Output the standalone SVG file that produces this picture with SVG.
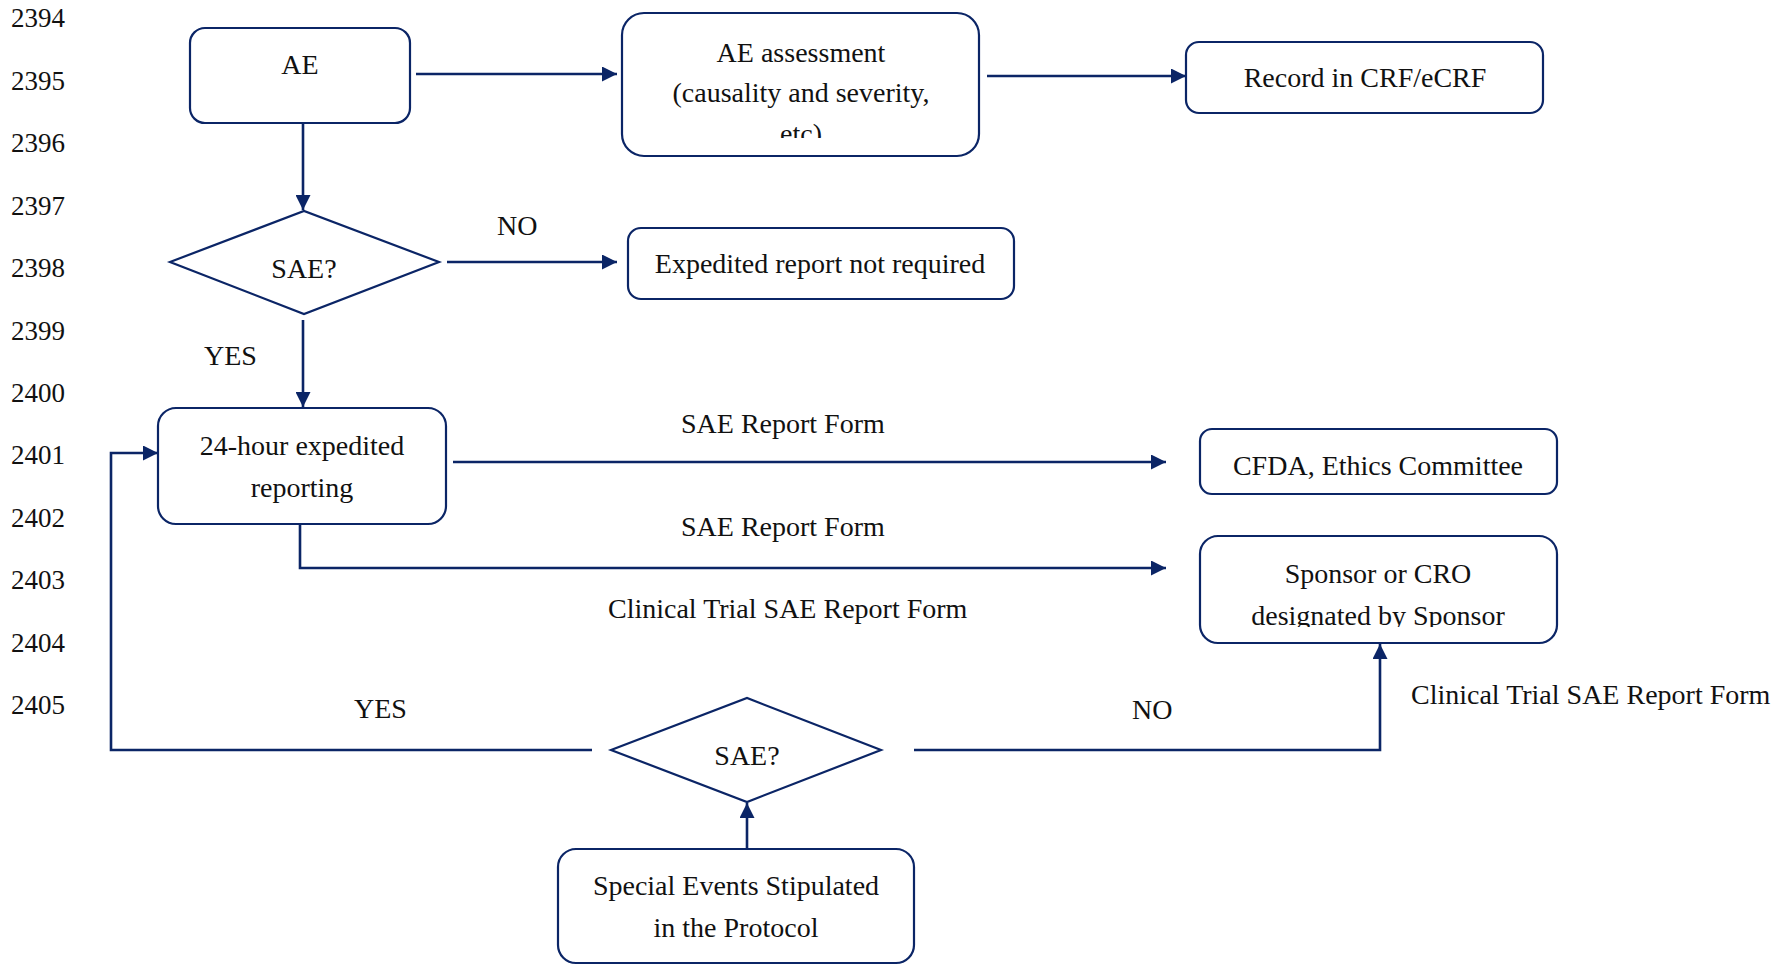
<svg xmlns="http://www.w3.org/2000/svg" width="1774" height="965" viewBox="0 0 1774 965">
<style>
text{font-family:"Liberation Serif","Times New Roman",serif;fill:#111;}
.ln{font-size:27px;}
.t{font-size:28px;text-anchor:middle;}
.lb{font-size:28px;}
.box{fill:#fff;stroke:#0b2566;stroke-width:2.2;}
.con{fill:none;stroke:#0b2566;stroke-width:2.6;}
</style>
<defs>
<marker id="ah" markerUnits="userSpaceOnUse" markerWidth="16" markerHeight="15" refX="15" refY="7.5" orient="auto">
<path d="M0,0 L15,7.5 L0,15 z" fill="#0b2566"/>
</marker>
<clipPath id="clipA"><rect x="622" y="13" width="357" height="125"/></clipPath>
<clipPath id="clipS"><rect x="1200" y="536" width="357" height="91"/></clipPath>
</defs>
<rect width="1774" height="965" fill="#fff"/>
<g id="line-numbers" class="ln">
<text x="11" y="27">2394</text>
<text x="11" y="90">2395</text>
<text x="11" y="152">2396</text>
<text x="11" y="215">2397</text>
<text x="11" y="277">2398</text>
<text x="11" y="340">2399</text>
<text x="11" y="402">2400</text>
<text x="11" y="464">2401</text>
<text x="11" y="527">2402</text>
<text x="11" y="589">2403</text>
<text x="11" y="652">2404</text>
<text x="11" y="714">2405</text>
</g>
<g id="connectors">
<line class="con" x1="416" y1="74" x2="617" y2="74" marker-end="url(#ah)"/>
<line class="con" x1="987" y1="76" x2="1186" y2="76" marker-end="url(#ah)"/>
<line class="con" x1="303" y1="123" x2="303" y2="210" marker-end="url(#ah)"/>
<line class="con" x1="447" y1="262" x2="617" y2="262" marker-end="url(#ah)"/>
<line class="con" x1="303" y1="320" x2="303" y2="407" marker-end="url(#ah)"/>
<line class="con" x1="453" y1="462" x2="1166" y2="462" marker-end="url(#ah)"/>
<polyline class="con" points="300,524 300,568 1166,568" marker-end="url(#ah)"/>
<polyline class="con" points="592,750 111,750 111,453 158,453" marker-end="url(#ah)"/>
<polyline class="con" points="914,750 1380,750 1380,644" marker-end="url(#ah)"/>
<line class="con" x1="747" y1="849" x2="747" y2="803" marker-end="url(#ah)"/>
<text class="lb" x="497" y="235">NO</text>
<text class="lb" x="204" y="365">YES</text>
<text class="lb" x="681" y="433">SAE Report Form</text>
<text class="lb" x="681" y="536">SAE Report Form</text>
<text class="lb" x="608" y="618">Clinical Trial SAE Report Form</text>
<text class="lb" x="354" y="718">YES</text>
<text class="lb" x="1132" y="719">NO</text>
<text class="lb" x="1411" y="704">Clinical Trial SAE Report Form</text>
</g>
<g id="node-ae">
<rect class="box" x="190" y="28" width="220" height="95" rx="15"/>
<text class="t" x="300" y="74">AE</text>
</g>
<g id="node-assessment">
<rect class="box" x="622" y="13" width="357" height="143" rx="22"/>
<g clip-path="url(#clipA)">
<text class="t" x="801" y="62">AE assessment</text>
<text class="t" x="801" y="102">(causality and severity,</text>
<text class="t" x="801" y="143">etc)</text>
</g>
</g>
<g id="node-record">
<rect class="box" x="1186" y="42" width="357" height="71" rx="13"/>
<text class="t" x="1365" y="87">Record in CRF/eCRF</text>
</g>
<g id="node-sae1">
<polygon class="box" points="170,262 304,211 439,262 304,314"/>
<text class="t" x="304" y="278">SAE?</text>
</g>
<g id="node-not-required">
<rect class="box" x="628" y="228" width="386" height="71" rx="13"/>
<text class="t" x="820" y="273">Expedited report not required</text>
</g>
<g id="node-24h">
<rect class="box" x="158" y="408" width="288" height="116" rx="18"/>
<text class="t" x="302" y="455">24-hour expedited</text>
<text class="t" x="302" y="497">reporting</text>
</g>
<g id="node-cfda">
<rect class="box" x="1200" y="429" width="357" height="65" rx="12"/>
<text class="t" x="1378" y="475">CFDA, Ethics Committee</text>
</g>
<g id="node-sponsor">
<rect class="box" x="1200" y="536" width="357" height="107" rx="18"/>
<g clip-path="url(#clipS)">
<text class="t" x="1378" y="583">Sponsor or CRO</text>
<text class="t" x="1378" y="625">designated by Sponsor</text>
</g>
</g>
<g id="node-sae2">
<polygon class="box" points="611,750 747,698 881,750 747,802"/>
<text class="t" x="747" y="765">SAE?</text>
</g>
<g id="node-special">
<rect class="box" x="558" y="849" width="356" height="114" rx="18"/>
<text class="t" x="736" y="895">Special Events Stipulated</text>
<text class="t" x="736" y="937">in the Protocol</text>
</g>
</svg>
